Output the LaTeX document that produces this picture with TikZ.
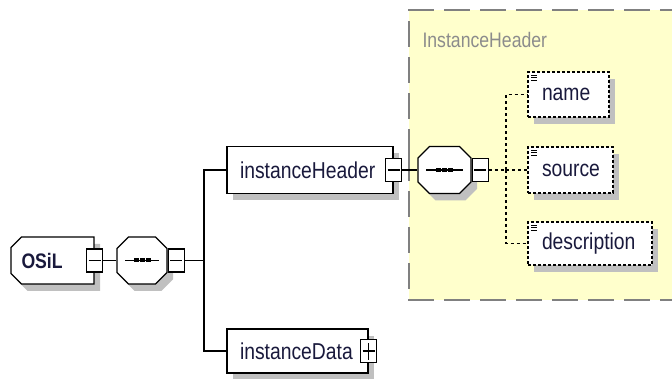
\documentclass[tikz,border=0pt]{standalone}
\usepackage{fontspec}
\setmainfont[FakeStretch=0.84]{Liberation Sans}
\usetikzlibrary{positioning,shapes.misc,shadows}

\definecolor{groupfill}{RGB}{255,255,204}
\definecolor{groupline}{RGB}{128,128,128}
\definecolor{grouptext}{RGB}{140,140,140}
\definecolor{elemtext}{RGB}{25,25,60}
\definecolor{shadowgray}{RGB}{192,192,192}

\newcommand\elemfont{\fontsize{23}{25}\selectfont}

\tikzset{
	boxshadow/.style={drop shadow={shadow xshift=6pt,shadow yshift=-7pt,fill=shadowgray,opacity=1}},
	elem/.style={draw, line width=1.2pt, fill=white, boxshadow, inner ysep=0pt, inner xsep=13pt,
		align=left, text=elemtext, font=\elemfont},
	optelem/.style={elem, inner xsep=14pt, dash pattern=on 3pt off 2pt,
		path picture={
			\foreach \dy in {3,5.5,8}
				\draw[solid, black, line width=0.9pt] ([xshift=3pt,yshift=-\dy pt]path picture bounding box.north west) -- +(6pt,0);
		}},
	rootelem/.style={elem, chamfered rectangle, chamfered rectangle corners={north west,south west},
		chamfered rectangle xsep=7pt, inner xsep=0pt, font=\fontsize{21}{23}\selectfont\bfseries},
	seqbox/.style={draw, line width=1.2pt, fill=white, boxshadow, chamfered rectangle,
		chamfered rectangle xsep=8pt, inner sep=10pt,
		path picture={
			\draw[black, line width=1.2pt] ([xshift=8pt]path picture bounding box.west) -- ([xshift=-8pt]path picture bounding box.east);
			\foreach \dx in {-6,0,6}
				\fill[black] ([xshift=\dx pt]path picture bounding box.center) +(-2.5pt,-2pt) rectangle +(2.5pt,2pt);
		}},
	minusbox/.style={draw, line width=1.2pt, fill=white, inner sep=0pt, minimum width=16pt, minimum height=23pt,
		path picture={
			\draw[black, line width=1.1pt] ([xshift=2pt]path picture bounding box.west) -- ([xshift=-2pt]path picture bounding box.east);
		}},
	plusbox/.style={minusbox,
		path picture={
			\draw[black, line width=1.1pt] ([xshift=2pt]path picture bounding box.west) -- ([xshift=-2pt]path picture bounding box.east);
			\draw[black, line width=1.1pt] ([yshift=3pt]path picture bounding box.south) -- ([yshift=-3pt]path picture bounding box.north);
		}},
	conn/.style={line width=1.3pt},
	optconn/.style={line width=1.3pt, dash pattern=on 3pt off 3pt},
	groupline/.style={draw=groupline, line width=1.5pt, dash pattern=on 26pt off 10pt},
}

\begin{document}
\begin{tikzpicture}[x=1pt,y=-1pt]
	\useasboundingbox (0,0) rectangle (672,379);

	% group of the header type
	\fill[groupfill] (409,10) rectangle (690,300);
	\draw[groupline] (409,155) -- (409,10) -- (690,10);
	\draw[groupline] (409,155) -- (409,300) -- (690,300);
	\node[anchor=west, text=grouptext, font=\fontsize{21}{23}\selectfont] (grouplabel) at (419,40) {InstanceHeader};

	% root
	\node[rootelem, minimum width=83pt, minimum height=47pt, text width=62pt] (osil) at (52.5,260.5) {OSiL};
	\node[minusbox] (osilc) at (osil.east) {};
	\node[seqbox, minimum width=50pt, minimum height=47pt] (seq) at (142,260.5) {};
	\node[minusbox, right=0pt of seq] (seqc) {};
	\coordinate (fork) at (204,260.5);

	% children of OSiL
	\node[elem, minimum height=47pt, text width=140pt] (hdr) at (310,170) {instanceHeader};
	\node[minusbox] (hdrc) at (hdr.east) {};
	\node[elem, minimum height=44pt, text width=115pt] (data) at (297.5,351) {instanceData};
	\node[plusbox] (datac) at (data.east) {};

	% children of instanceHeader
	\node[seqbox, minimum width=53pt, minimum height=47pt] (hseq) at (444.5,170) {};
	\node[minusbox, right=0pt of hseq] (hseqc) {};
	\coordinate (hfork) at (506,170);
	\node[optelem, minimum height=45pt, text width=53pt] (name) at (568.5,94.5) {name};
	\node[optelem, minimum height=46pt, text width=57pt] (source) at (570.5,170) {source};
	\node[optelem, minimum height=43pt, text width=96pt] (desc) at (590,243.5) {description};

	\draw[conn] (osilc) -- (seq);
	\draw[conn] (seqc) -- (fork);
	\draw[conn] (fork) |- (hdr);
	\draw[conn] (fork) |- (data);
	\draw[conn] (hdrc) -- (hseq);
	\draw[optconn] (hseqc) -- (hfork);
	\draw[optconn] (hfork) |- (name);
	\draw[optconn] (hfork) -- (source);
	\draw[optconn] (hfork) |- (desc);
\end{tikzpicture}
\end{document}
